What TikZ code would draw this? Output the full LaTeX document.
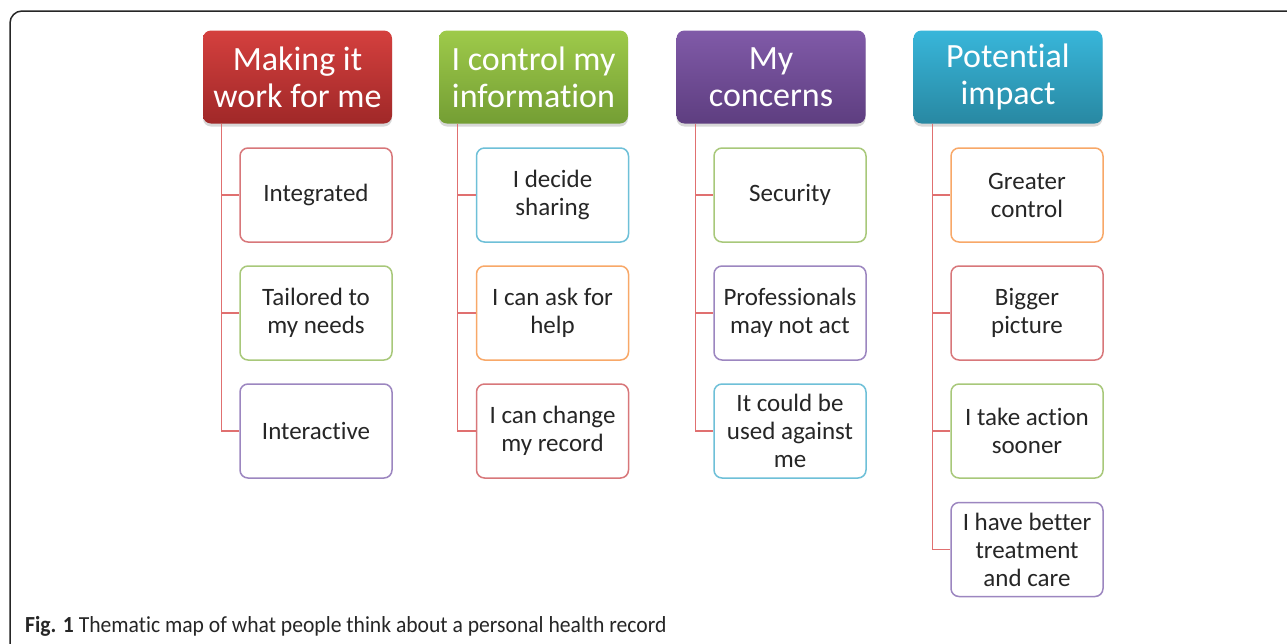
\documentclass[tikz,border=0pt]{standalone}
\usepackage{fontspec}
\setmainfont[RawFeature={-liga;-clig;-dlig;-calt;-hlig}]{Carlito}
\usetikzlibrary{shadows}
\newcommand{\tI}{t\kern0pt i}
\definecolor{cred}{HTML}{D8777A}
\definecolor{cgreen}{HTML}{A8C87A}
\definecolor{cpurple}{HTML}{9C86C0}
\definecolor{cblue}{HTML}{6EC0D8}
\definecolor{corange}{HTML}{F8A868}
\definecolor{conn}{HTML}{E07070}
\tikzset{
  head/.style={rounded corners=8pt, minimum width=189pt, minimum height=93pt, inner sep=0pt,
    align=center, text=white, font=\fontsize{34}{37}\selectfont,
    drop shadow={opacity=0.3, shadow xshift=0pt, shadow yshift=-3pt}},
  child/.style={draw=#1, line width=1.5pt, rounded corners=8pt, fill=white, minimum width=152pt,
    minimum height=94pt, inner sep=0pt, align=center, text=black!85,
    font=\fontsize{25}{28}\selectfont},
  connline/.style={draw=conn, line width=1.3pt},
}
\begin{document}
\begin{tikzpicture}[x=1pt,y=-1pt]
\useasboundingbox (0,0) rectangle (1287,643);
\clip (0,0) rectangle (1287,643);
\fill[white] (0,0) rectangle (1287,643);
\draw[line width=1.5pt, black!85, rounded corners=12pt] (10,11) rectangle (1320,680);

% headers
\node[head, top color={rgb,255:red,212;green,64;blue,62}, bottom color={rgb,255:red,160;green,40;blue,40}] (h1) at (297.5,77) {Making it\\work for me};
\node[head, top color={rgb,255:red,158;green,202;blue,74}, bottom color={rgb,255:red,116;green,158;blue,52}] (h2) at (533.5,77) {I control my\\informa\tI on};
\node[head, top color={rgb,255:red,128;green,90;blue,168}, bottom color={rgb,255:red,94;green,62;blue,128}] (h3) at (771,77) {My\\concerns};
\node[head, top color={rgb,255:red,56;green,182;blue,218}, bottom color={rgb,255:red,40;green,136;blue,162}] (h4) at (1008,77) {Poten\tI al\\impact};

% column 1
\node[child=cred] (c11) at (316,195) {Integrated};
\node[child=cgreen] (c12) at (316,313) {Tailored to\\my needs};
\node[child=cpurple] (c13) at (316,431) {Interac\tI ve};
% column 2
\node[child=cblue] (c21) at (552.5,195) {I decide\\sharing};
\node[child=corange] (c22) at (552.5,313) {I can ask for\\help};
\node[child=cred] (c23) at (552.5,431) {I can change\\my record};
% column 3
\node[child=cgreen] (c31) at (790,195) {Security};
\node[child=cpurple] (c32) at (790,313) {Professionals\\may not act};
\node[child=cblue] (c33) at (790,431) {It could be\\used against\\me};
% column 4
\node[child=corange] (c41) at (1027,195) {Greater\\control};
\node[child=cred] (c42) at (1027,313) {Bigger\\picture};
\node[child=cgreen] (c43) at (1027,431) {I take ac\tI on\\sooner};
\node[child=cpurple] (c44) at (1027,549.5) {I have better\\treatment\\and care};

% connectors
\foreach \h/\c in {h1/c11,h1/c12,h1/c13,h2/c21,h2/c22,h2/c23,h3/c31,h3/c32,h3/c33,h4/c41,h4/c42,h4/c43,h4/c44}{
  \draw[connline] ([xshift=19pt]\h.south west) |- (\c.west);
}

% caption
\node[anchor=base west, inner sep=0pt, text=black!85] (cap) at (25,632)
  {\scalebox{0.94}[1]{\fontsize{23}{26}\selectfont\textbf{Fig. 1} Thema\tI c map of what people think about a personal health record}};
\end{tikzpicture}
\end{document}
